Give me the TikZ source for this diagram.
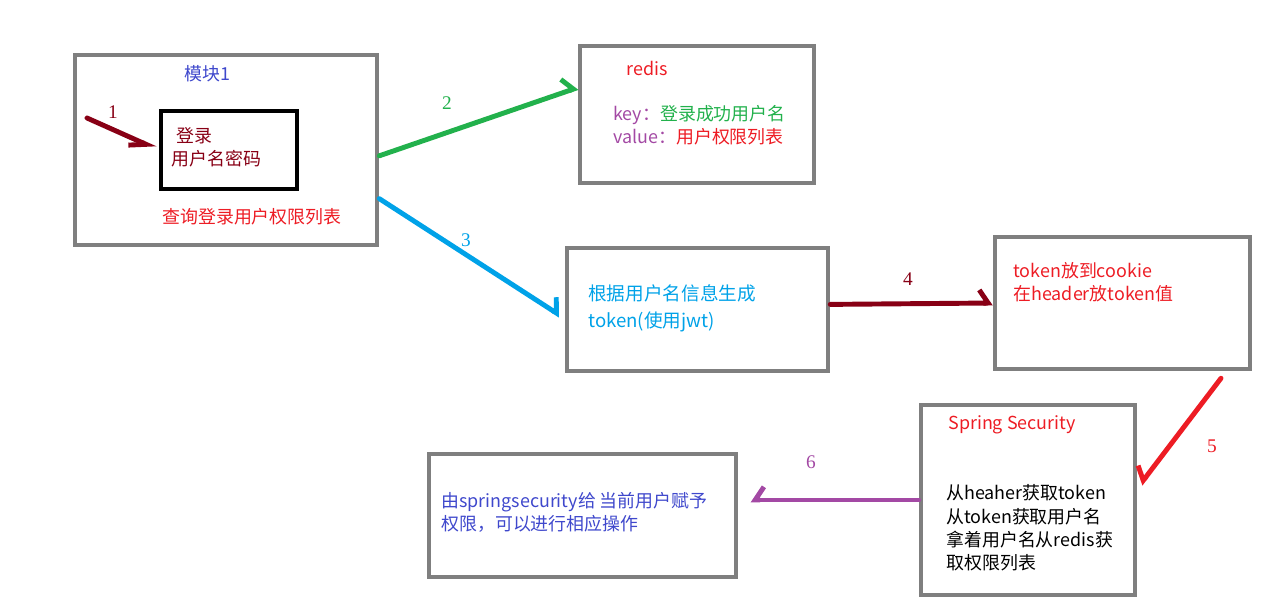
\documentclass[tikz,border=0pt]{standalone}
\usepackage{fontspec}
\setmainfont{Noto Sans CJK SC}
\newfontfamily\numfont{Liberation Serif}
\usetikzlibrary{arrows.meta,positioning,calc}
\definecolor{FlowGray}{HTML}{7F7F7F}
\definecolor{FlowBlue}{HTML}{3F48CC}
\definecolor{FlowSky}{HTML}{00A2E8}
\definecolor{FlowDark}{HTML}{880015}
\definecolor{FlowRed}{HTML}{ED1C24}
\definecolor{FlowGreen}{HTML}{22B14C}
\definecolor{FlowPurple}{HTML}{A349A4}

\begin{document}
\begin{tikzpicture}[x=0.02cm,y=-0.02cm]
    \tikzset{panel/.style={draw=FlowGray,line width=2.6pt,inner sep=0pt},
      txt/.style={anchor=west,inner sep=0pt,align=left,font=\fontsize{10.2}{13.2}\selectfont},
      num/.style={inner sep=0pt,font=\numfont\fontsize{11}{12}\selectfont},
      flow/.style={draw=#1,line width=2.8pt,line cap=round,
        -{Straight Barb[harpoon,length=5pt,width=15pt,line width=2.8pt]}},
      flowr/.style={draw=#1,line width=2.8pt,line cap=round,
        -{Straight Barb[harpoon,swap,length=5pt,width=15pt,line width=2.8pt]}}}
    \useasboundingbox (0,0) rectangle (1279,608);
    % boxes
    \node[panel,minimum width=6.04cm,minimum height=3.8cm] (mod) at (226,150) {};
    \node[draw=black,line width=2.6pt,minimum width=2.72cm,minimum height=1.56cm] (login) at (229,150) {};
    \node[panel,minimum width=4.68cm,minimum height=2.74cm] (redis) at (697,114.5) {};
    \node[panel,minimum width=5.22cm,minimum height=2.46cm] (jwt) at (697.5,309.5) {};
    \node[panel,minimum width=5.1cm,minimum height=2.64cm] (cookie) at (1122.5,303) {};
    \node[panel,minimum width=4.28cm,minimum height=3.8cm] (spring) at (1028,500) {};
    \node[panel,minimum width=6.14cm,minimum height=2.46cm] (perm) at (582.5,515.5) {};
    % texts
    \node[txt,text=FlowBlue] (modt) at (184,74) {模块1};
    \node[txt,text=FlowDark] (logint) at (171,147) {\hspace{3pt}登录\\用户名密码};
    \node[txt,text=FlowRed] (query) at (162,217) {查询登录用户权限列表};
    \node[txt,text=FlowRed] (redist) at (626,68) {redis};
    \node[txt] (kv) at (613,125) {\textcolor{FlowPurple}{key：}\textcolor{FlowGreen}{登录成功用户名}\\
      \textcolor{FlowPurple}{value：}\textcolor{FlowRed}{用户权限列表}};
    \node[txt,text=FlowSky,font=\fontsize{10.6}{15.5}\selectfont] (jwtt) at (588,308) {根据用户名信息生成\\token(使用jwt)};
    \node[txt,text=FlowRed] (cookiet) at (1013,282.5) {token放到cookie\\在header放token值};
    \node[txt,text=FlowRed] (springt) at (948,425) {Spring Security};
    \node[txt] (steps) at (946,528) {从heaher获取token\\从token获取用户名\\拿着用户名从redis获\\取权限列表};
    \node[txt,text=FlowBlue] (permt) at (441,512) {由springsecurity给 当前用户赋予\\权限，可以进行相应操作};
    % connectors
    \coordinate (in1) at (87,118);
    \draw[draw=FlowDark,line width=2.8pt,line cap=round,shorten >=2pt,
      -{Straight Barb[harpoon,swap,length=9pt,width=9pt,line width=2.8pt]}] (in1) -- (login.west);
    \draw[flow=FlowGreen] ($(mod.north east)!0.53!(mod.south east)$) -- ($(redis.north west)!0.31!(redis.south west)$);
    \draw[flow=FlowSky,shorten >=3pt] ($(mod.north east)!0.75!(mod.south east)$) -- ($(jwt.north west)!0.57!(jwt.south west)$);
    \draw[flow=FlowDark] ($(jwt.north east)!0.46!(jwt.south east)$) -- (cookie.west);
    \draw[flowr=FlowRed,shorten <=5pt,shorten >=3pt] ($(cookie.south west)!0.9!(cookie.south east)$) -- ($(spring.north east)!0.44!(spring.south east)$);
    \draw[flowr=FlowPurple,shorten >=7pt] (spring.west) -- (perm.east |- spring.west);
    % step numbers
    \node[num,text=FlowDark] (n1) at (113,112) {1};
    \node[num,text=FlowGreen] (n2) at (447,103) {2};
    \node[num,text=FlowSky] (n3) at (466,240) {3};
    \node[num,text=FlowDark] (n4) at (908,279) {4};
    \node[num,text=FlowRed] (n5) at (1212,446) {5};
    \node[num,text=FlowPurple] (n6) at (811,462) {6};
\end{tikzpicture}
\end{document}
